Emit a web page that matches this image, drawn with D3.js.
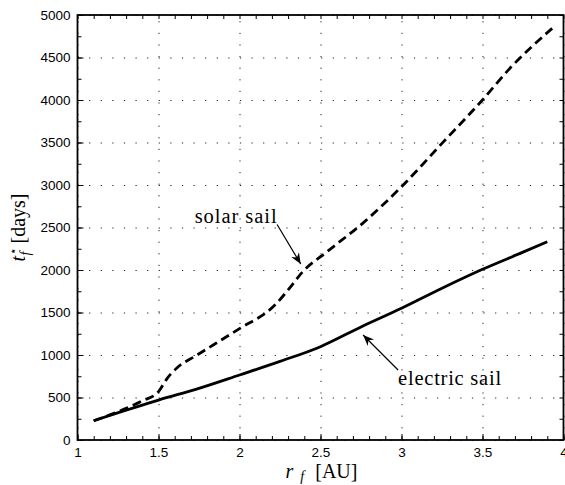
<!DOCTYPE html>
<html>
<head>
<meta charset="utf-8">
<script src="https://cdn.jsdelivr.net/npm/d3@7"></script>
<style>
	body { margin: 0; background: #fff; }
	svg { display: block; }
</style>
</head>
<body>
<div id="chart"></div>
<script>
// final radius r_f [AU] and transfer time t_f* [days]
let rfElectric = [1.1, 1.2, 1.3, 1.4, 1.5, 1.73, 2.0, 2.25, 2.5, 2.75, 3.0, 3.25, 3.5, 3.75, 3.9];
let tfElectric = [227, 290, 350, 410, 470, 596, 765, 925, 1098, 1330, 1549, 1785, 2008, 2210, 2333];

let rfSolar = [1.1, 1.2, 1.3, 1.4, 1.5, 1.555, 1.615, 1.73, 1.89, 2.0, 2.22, 2.3, 2.39, 2.54, 2.76, 3.0, 3.25, 3.49, 3.68, 3.93];
let tfSolar = [227, 295, 372, 460, 569, 729, 850, 990, 1180, 1310, 1590, 1765, 1980, 2215, 2549, 2980, 3490, 3980, 4395, 4843];

let xTicks = [1, 1.5, 2, 2.5, 3, 3.5, 4];
let yTicks = [0, 500, 1000, 1500, 2000, 2500, 3000, 3500, 4000, 4500, 5000];
let xMinor = d3.range(1, 4.001, 0.1);
let yMinor = d3.range(0, 5001, 250);

// annotation anchors in data units
let solarNote = { label: "solar sail", len: 82, tx: 1.723, ty: 2549, x0: 2.232, y0: 2535, x1: 2.378, y1: 2070 };
let electricNote = { label: "electric sail", len: 103, tx: 2.979, ty: 647, x0: 2.979, y0: 824, x1: 2.763, y1: 1235 };

let sansFont = "Liberation Sans";
let serifFont = "Liberation Serif";

let width = 565;
let height = 485;
let margin = { top: 15, right: 1.5, bottom: 45, left: 77.5 };

let svg = d3.select("#chart").append("svg")
	.attr("width", width)
	.attr("height", height);

let x = d3.scaleLinear().domain([1, 4]).range([margin.left, width - margin.right]);
let y = d3.scaleLinear().domain([0, 5000]).range([height - margin.bottom, margin.top]);

let plotW = x(4) - x(1);
let plotH = y(0) - y(5000);

// dotted grid
let gridStyle = (g) => g.call((g) => g.select(".domain").remove())
	.call((g) => g.selectAll("line")
		.attr("stroke", "#222")
		.attr("stroke-width", 1)
		.attr("stroke-dasharray", "1.2,10.4"));

svg.append("g")
	.attr("transform", `translate(0,${y(0)})`)
	.call(d3.axisBottom(x).tickValues(xTicks).tickSize(-plotH).tickFormat(""))
	.call(gridStyle);
svg.append("g")
	.attr("transform", `translate(${x(1)},0)`)
	.call(d3.axisLeft(y).tickValues(yTicks).tickSize(-plotW).tickFormat(""))
	.call(gridStyle);

// curves
let line = (xs, ys) => d3.line()
	.x((d, i) => x(xs[i]))
	.y((d, i) => y(ys[i]))
	.curve(d3.curveMonotoneX)(xs);

svg.append("path")
	.attr("d", line(rfElectric, tfElectric))
	.attr("fill", "none")
	.attr("stroke", "#000")
	.attr("stroke-width", 2.8)
	.attr("stroke-linejoin", "round");

svg.append("path")
	.attr("d", line(rfSolar, tfSolar))
	.attr("fill", "none")
	.attr("stroke", "#000")
	.attr("stroke-width", 2.8)
	.attr("stroke-dasharray", "9,5");

// ticks pointing inward on all four sides
let tickStyle = (g) => g.call((g) => g.select(".domain").remove())
	.call((g) => g.attr("font-family", sansFont).attr("font-size", 13.5))
	.call((g) => g.selectAll("line").attr("stroke", "#000").attr("stroke-width", 1))
	.call((g) => g.selectAll("text").attr("fill", "#000"));

svg.append("g").attr("transform", `translate(0,${y(0)})`)
	.call(d3.axisBottom(x).tickValues(xMinor).tickSize(-4).tickFormat("")).call(tickStyle);
svg.append("g").attr("transform", `translate(0,${y(5000)})`)
	.call(d3.axisTop(x).tickValues(xMinor).tickSize(-4).tickFormat("")).call(tickStyle);
svg.append("g").attr("transform", `translate(${x(1)},0)`)
	.call(d3.axisLeft(y).tickValues(yMinor).tickSize(-4).tickFormat("")).call(tickStyle);
svg.append("g").attr("transform", `translate(${x(4)},0)`)
	.call(d3.axisRight(y).tickValues(yMinor).tickSize(-4).tickFormat("")).call(tickStyle);

// tick labels
svg.append("g").attr("transform", `translate(0,${y(0)})`)
	.call(d3.axisBottom(x).tickValues(xTicks).tickSize(-6).tickPadding(7).tickFormat(d3.format("")))
	.call(tickStyle);
svg.append("g").attr("transform", `translate(${x(1)},0)`)
	.call(d3.axisLeft(y).tickValues(yTicks).tickSize(-6).tickPadding(7).tickFormat(d3.format("d")))
	.call(tickStyle);

// box
svg.append("rect")
	.attr("x", x(1))
	.attr("y", y(5000))
	.attr("width", plotW)
	.attr("height", plotH)
	.attr("fill", "none")
	.attr("stroke", "#000")
	.attr("stroke-width", 1.8);

// arrow head
svg.append("defs").append("marker")
	.attr("id", "head")
	.attr("viewBox", "-12 -6 14 12")
	.attr("markerUnits", "userSpaceOnUse")
	.attr("markerWidth", 14)
	.attr("markerHeight", 12)
	.attr("refX", 0)
	.attr("refY", 0)
	.attr("orient", "auto")
	.append("path")
	.attr("d", "M0,0 L-11,-4.5 L-7.5,0 L-11,4.5 Z")
	.attr("fill", "#000");

[solarNote, electricNote].forEach((n) => {
	svg.append("line")
		.attr("x1", x(n.x0))
		.attr("y1", y(n.y0))
		.attr("x2", x(n.x1))
		.attr("y2", y(n.y1))
		.attr("stroke", "#000")
		.attr("stroke-width", 1.2)
		.attr("marker-end", "url(#head)");
	svg.append("text")
		.attr("x", x(n.tx))
		.attr("y", y(n.ty))
		.attr("font-family", serifFont)
		.attr("font-size", 20.5)
		.attr("fill", "#000")
		.attr("textLength", n.len)
		.attr("lengthAdjust", "spacing")
		.text(n.label);
});

// axis labels
let xLabel = svg.append("text")
	.attr("x", 321.5)
	.attr("y", 478)
	.attr("text-anchor", "middle")
	.attr("font-family", serifFont)
	.attr("font-size", 20)
	.attr("fill", "#000");
xLabel.append("tspan").attr("font-style", "italic").text("r");
xLabel.append("tspan").attr("font-style", "italic").attr("font-size", 14).attr("dx", 7).attr("dy", 3).text("f");
xLabel.append("tspan").attr("dx", 11).attr("dy", -3).text("[AU]");

let yLabel = svg.append("text")
	.attr("transform", `translate(25,${(y(0) + y(5000)) / 2}) rotate(-90)`)
	.attr("text-anchor", "middle")
	.attr("font-family", serifFont)
	.attr("font-size", 20)
	.attr("fill", "#000");
yLabel.append("tspan").attr("font-style", "italic").text("t");
yLabel.append("tspan").attr("font-size", 12).attr("font-family", "DejaVu Sans").attr("dx", 1).attr("dy", -8).text("⋆");
yLabel.append("tspan").attr("font-style", "italic").attr("font-size", 14).attr("dx", -8).attr("dy", 13).text("f");
yLabel.append("tspan").attr("dx", 8).attr("dy", -5).text("[days]");
</script>
</body>
</html>
